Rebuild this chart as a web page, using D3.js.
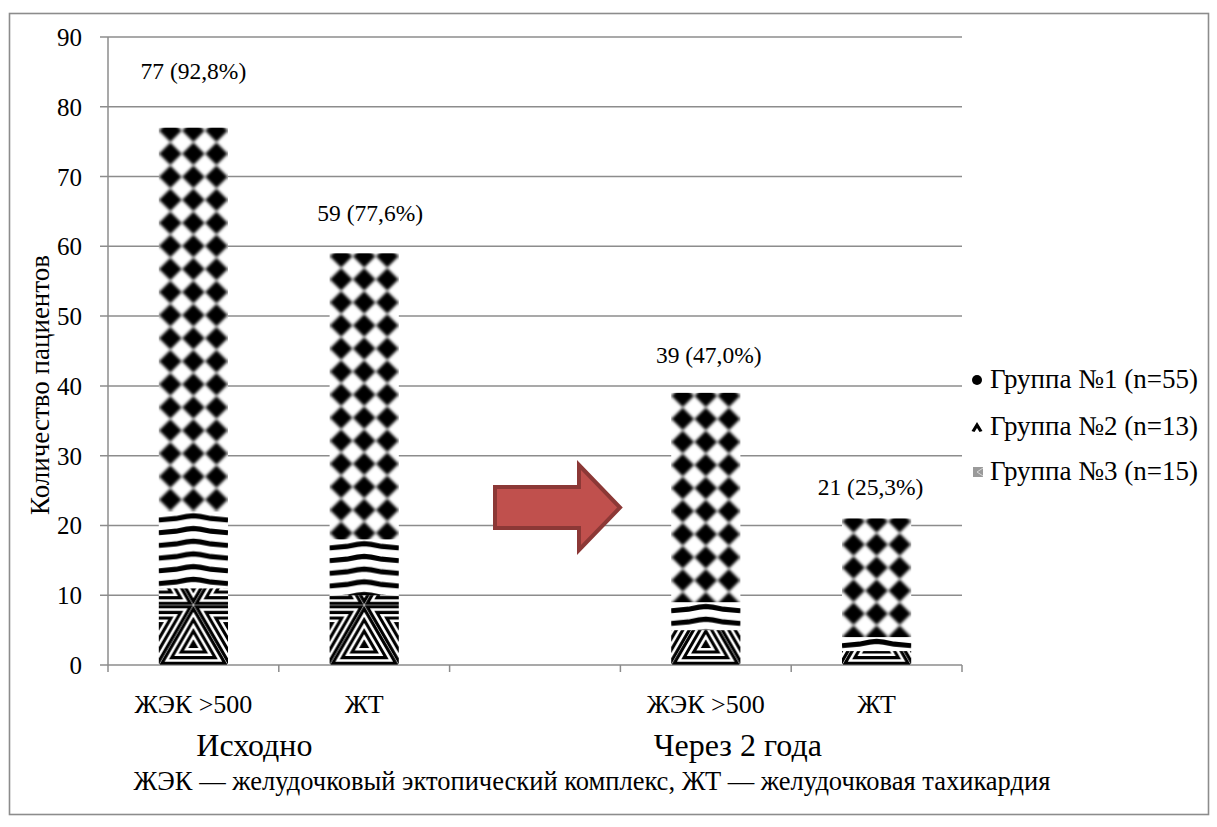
<!DOCTYPE html>
<html>
<head>
<meta charset="utf-8">
<script src="https://cdn.jsdelivr.net/npm/d3@7"></script>
<style>
  html, body { margin: 0; padding: 0; background: #fff; }
  svg text { font-family: "Liberation Serif", "Times New Roman", serif; fill: #000; }
</style>
</head>
<body>
<svg id="chart" width="1217" height="827"></svg>
<script>
// Patients by arrhythmia type, at baseline and after two years
const categories = ["ЖЭК >500", "ЖТ", "", "ЖЭК >500", "ЖТ"];
const group1 = [55, 41, 0, 30, 17];
const group2 = [11, 8, 0, 4, 2];
const group3 = [11, 10, 0, 5, 2];
const totalLabels = ["77 (92,8%)", "59 (77,6%)", "", "39 (47,0%)", "21 (25,3%)"];
const seriesNames = ["Группа №1 (n=55)", "Группа №2 (n=13)", "Группа №3 (n=15)"];
const yTicks = [0, 10, 20, 30, 40, 50, 60, 70, 80, 90];
const periodLabels = ["Исходно", "Через 2 года"];
const footnote = "ЖЭК — желудочковый эктопический комплекс, ЖТ — желудочковая тахикардия";

// hand-placed offsets of the total labels (lift above the bar top, sideways nudge)
const labelLift = [49, 32, 0, 30, 23];
const labelShift = [0, 6, 0, 3, -6];

const svg = d3.select("#chart");
const grid = "#8c8c8c";

// frame
svg.append("rect").attr("x", 9.5).attr("y", 13.5).attr("width", 1199).attr("height", 801)
  .attr("fill", "none").attr("stroke", grid).attr("stroke-width", 1.6);

const plot = { left: 108, right: 962, top: 37, bottom: 665 };

const x = d3.scaleBand()
  .domain(d3.range(categories.length))
  .range([plot.left, plot.right])
  .paddingInner(0.595)
  .paddingOuter(0.2975);
const y = d3.scaleLinear().domain([0, 90]).range([plot.bottom, plot.top]);

const bw = x.bandwidth();
const gap = (x.step() - bw) / 2;
const total = i => group1[i] + group2[i] + group3[i];

// stacked data
const rows = categories.map((c, i) => ({ i, g1: group1[i], g2: group2[i], g3: group3[i] }));
const stack = d3.stack().keys(["g3", "g2", "g1"])(rows);

const defs = svg.append("defs");
const blur = defs.append("filter").attr("id", "soft")
  .attr("filterUnits", "userSpaceOnUse")
  .attr("x", -100).attr("y", -100).attr("width", 300).attr("height", 300);
blur.append("feGaussianBlur").attr("stdDeviation", 1.3);

// pattern builders, one per bar so the tile lines up with the bar edges
function diamondPattern(id, x0, yTop) {
  const P = bw / 3, h = P / 2 * 0.98;
  const p = defs.append("pattern").attr("id", id).attr("patternUnits", "userSpaceOnUse")
    .attr("x", x0).attr("y", yTop - P / 2 + 3).attr("width", P).attr("height", P);
  p.append("rect").attr("width", P).attr("height", P).attr("fill", "#fff");
  const g = p.append("g").attr("filter", "url(#soft)");
  // neighbours are drawn too so the blur stays seamless across tile edges
  for (let i = -1; i <= 1; i++) {
    for (let j = -1; j <= 1; j++) {
      const cx = P / 2 + i * P, cy = P / 2 + j * P;
      g.append("path").attr("fill", "#000")
        .attr("d", `M${cx},${cy - h}L${cx + h},${cy}L${cx},${cy + h}L${cx - h},${cy}Z`);
    }
  }
}

function chevronPattern(id, x0, y0) {
  const T = 12.7, S = bw;
  const p = defs.append("pattern").attr("id", id).attr("patternUnits", "userSpaceOnUse")
    .attr("x", x0).attr("y", y0).attr("width", S).attr("height", T);
  p.append("rect").attr("width", S).attr("height", T).attr("fill", "#fff");
  p.append("path").attr("fill", "none").attr("stroke", "#000").attr("stroke-width", 5)
    .attr("d", `M0,8.5L${S * 0.25},7L${S * 0.4},5L${S * 0.5},4.3L${S * 0.6},5L${S * 0.75},7L${S},8.5`);
}

function trianglePattern(id, x0, yBase) {
  const S = bw, H = S * Math.sqrt(3) / 2;
  const p = defs.append("pattern").attr("id", id).attr("patternUnits", "userSpaceOnUse")
    .attr("x", x0).attr("y", yBase - 2 * H).attr("width", S).attr("height", 2 * H);
  p.append("rect").attr("width", S).attr("height", 2 * H).attr("fill", "#fff");
  const tris = [
    [[0, 2 * H], [S, 2 * H], [S / 2, H]],
    [[-S / 2, H], [S / 2, H], [0, 2 * H]],
    [[S / 2, H], [3 * S / 2, H], [S, 2 * H]],
    [[-S / 2, H], [S / 2, H], [0, 0]],
    [[S / 2, H], [3 * S / 2, H], [S, 0]],
    [[0, 0], [S, 0], [S / 2, H]]
  ];
  const r = H / 3;
  tris.forEach(t => {
    const cx = d3.mean(t, d => d[0]), cy = d3.mean(t, d => d[1]);
    for (let d = 1.8; d < r - 0.8; d += 5.6) {
      const f = (r - d) / r;
      const pts = t.map(([px, py]) => [cx + (px - cx) * f, cy + (py - cy) * f]);
      p.append("path").attr("fill", "none").attr("stroke", "#000").attr("stroke-width", 3.1)
        .attr("d", "M" + pts.map(q => q.join(",")).join("L") + "Z");
    }
  });
}

rows.forEach(r => {
  const x0 = x(r.i);
  diamondPattern(`g1-${r.i}`, x0, y(total(r.i)));
  chevronPattern(`g2-${r.i}`, x0, y(group2[r.i] + group3[r.i]));
  trianglePattern(`g3-${r.i}`, x0, y(0));
});

// gridlines and y ticks
svg.append("g").selectAll("line").data(yTicks).join("line")
  .attr("x1", plot.left - 8).attr("x2", plot.right)
  .attr("y1", d => y(d)).attr("y2", d => y(d))
  .attr("stroke", grid).attr("stroke-width", 1.5);

svg.append("g").selectAll("text").data(yTicks).join("text")
  .attr("x", 82).attr("y", d => y(d) + 9)
  .attr("text-anchor", "end").attr("font-size", 25)
  .text(d => d);

// y axis line
svg.append("line").attr("x1", plot.left).attr("x2", plot.left)
  .attr("y1", plot.top).attr("y2", plot.bottom + 7)
  .attr("stroke", grid).attr("stroke-width", 1.5);

// x ticks at category boundaries
const bounds = d3.range(categories.length).map(i => x(i) - gap).concat([plot.right]);
svg.append("g").selectAll("line").data(bounds.slice(1)).join("line")
  .attr("x1", d => d).attr("x2", d => d)
  .attr("y1", plot.bottom).attr("y2", plot.bottom + 7)
  .attr("stroke", grid).attr("stroke-width", 1.5);

// stacked bars
stack.forEach(layer => {
  svg.append("g").selectAll("rect").data(layer.filter(d => d[1] > d[0])).join("rect")
    .attr("x", d => x(d.data.i))
    .attr("width", bw)
    .attr("y", d => y(d[1]))
    .attr("height", d => y(d[0]) - y(d[1]))
    .attr("fill", d => `url(#${layer.key}-${d.data.i})`);
});

// total labels
svg.append("g").selectAll("text").data(rows.filter(r => totalLabels[r.i])).join("text")
  .attr("x", r => x(r.i) + bw / 2 + labelShift[r.i])
  .attr("y", r => y(total(r.i)) - labelLift[r.i])
  .attr("text-anchor", "middle").attr("font-size", 23.5)
  .text(r => totalLabels[r.i]);

// category labels
svg.append("g").selectAll("text").data(categories.map((c, i) => ({ c, i })).filter(d => d.c)).join("text")
  .attr("x", d => x(d.i) + bw / 2).attr("y", 713)
  .attr("text-anchor", "middle").attr("font-size", 26)
  .text(d => d.c);

// period labels
svg.append("text").attr("x", x(0) + bw / 2 + 61).attr("y", 756)
  .attr("text-anchor", "middle").attr("font-size", 32).text(periodLabels[0]);
svg.append("text").attr("x", x(3) + bw / 2 + 32).attr("y", 756)
  .attr("text-anchor", "middle").attr("font-size", 32).text(periodLabels[1]);

// footnote
svg.append("text").attr("x", 592).attr("y", 790)
  .attr("text-anchor", "middle").attr("font-size", 26.5).text(footnote);

// y axis title
svg.append("text").attr("transform", `translate(49,385) rotate(-90)`)
  .attr("text-anchor", "middle").attr("font-size", 27).text("Количество пациентов");

// arrow between the two periods
svg.append("path")
  .attr("d", "M495,487L579,487L579,465L620,507.5L579,550L579,528L495,528Z")
  .attr("fill", "#c0504d").attr("stroke", "#8c3836").attr("stroke-width", 4)
  .attr("stroke-linejoin", "miter");

// legend
const legendY = [380, 427, 472];
const lg = svg.append("g");
lg.append("circle").attr("cx", 977).attr("cy", legendY[0]).attr("r", 5).attr("fill", "#000");
lg.append("path").attr("fill", "#000")
  .attr("d", `M971.5,${legendY[1] + 4}L977,${legendY[1] - 5}L982.5,${legendY[1] + 4}L979.5,${legendY[1] + 5}L977,${legendY[1] + 1}L974.5,${legendY[1] + 5}Z`);
lg.append("rect").attr("x", 973).attr("y", legendY[2] - 5).attr("width", 10).attr("height", 10).attr("fill", "#9a9a9a");
lg.append("path").attr("fill", "none").attr("stroke", "#d8d8d8").attr("stroke-width", 1)
  .attr("d", `M983,${legendY[2] - 4}L977,${legendY[2]}L983,${legendY[2] + 4}`);
lg.selectAll("text").data(seriesNames).join("text")
  .attr("x", 990).attr("y", (d, i) => [388, 435, 480][i])
  .attr("font-size", 27).text(d => d);
</script>
</body>
</html>
